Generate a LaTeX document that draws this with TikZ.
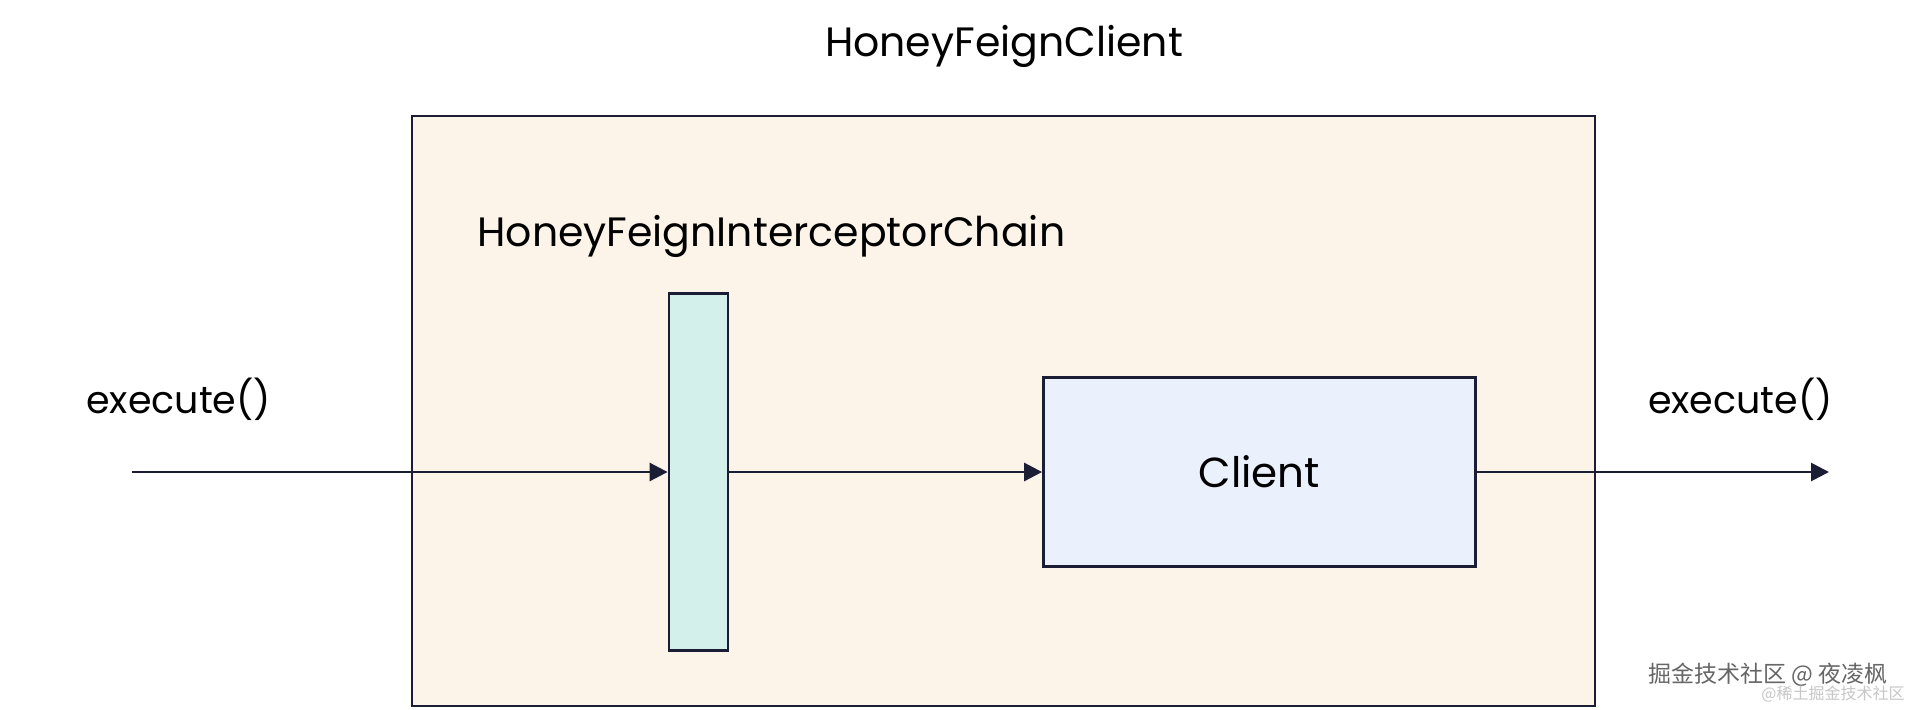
\documentclass[tikz,border=0pt]{standalone}
\usepackage{fontspec}
\setmainfont{Poppins}
\newfontfamily\cjk{Noto Sans CJK SC}
\usetikzlibrary{arrows.meta,positioning}
\definecolor{edge}{HTML}{1B1D35}
\definecolor{cream}{HTML}{FDF4E9}
\definecolor{mint}{HTML}{D3F0EA}
\definecolor{sky}{HTML}{EAF1FC}
\begin{document}
\begin{tikzpicture}[x=0.5pt,y=-0.5pt,font=\fontsize{19}{22}\selectfont,
  box/.style={draw=edge,line width=1.4pt,inner sep=0pt},
  lbl/.style={inner sep=0pt},
  big/.style={font=\fontsize{20.5}{24}\selectfont},
  >={Triangle[length=9pt,width=9pt]}]
\useasboundingbox (0,0) rectangle (1919,709);
\node[box,fill=cream,minimum width=591.5pt,minimum height=295pt] (hfc) at (1003.5,411) {};
\node[lbl,big] (title) at (1004,46) {HoneyFeignClient};
\node[lbl,big,anchor=west] (chainlbl) at (477,236) {HoneyFeignInterceptorChain};
\node[box,fill=mint,minimum width=29.5pt,minimum height=178.5pt] (chain) at (698.5,472) {};
\node[box,fill=sky,minimum width=216pt,minimum height=94.5pt] (client) at (1259.5,472) {\fontsize{21}{24}\selectfont Client};
\node[lbl,anchor=west] (inlbl) at (86,399) {execute()};
\node[lbl,anchor=east] (outlbl) at (1833,399) {execute()};
\coordinate (in) at (132,472);
\coordinate (out) at (1829,472);
\draw[edge,line width=1.4pt,->] (in) -- (chain.west);
\draw[edge,line width=1.4pt,->] (chain.east) -- (client.west);
\draw[edge,line width=1.4pt,->] (client.east) -- (out);
% watermark
\node[lbl,text=gray!80!black,font=\cjk\fontsize{11.5}{13}\selectfont] (wm) at (1768,675) {掘金技术社区 @ 夜凌枫};
\node[lbl,text=gray!45,font=\cjk\fontsize{8}{9}\selectfont] (wm2) at (1833,694) {@稀土掘金技术社区};
\end{tikzpicture}
\end{document}
